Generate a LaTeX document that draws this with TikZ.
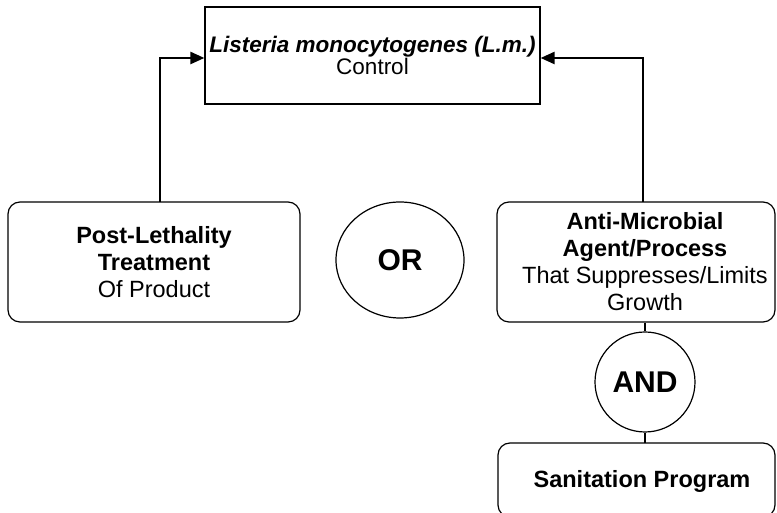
\documentclass[tikz,border=0pt]{standalone}
\usepackage{fontspec}
\setmainfont{Liberation Sans}
\usetikzlibrary{arrows.meta,shapes.geometric}
\begin{document}
\begin{tikzpicture}[x=1pt,y=1pt,
  boxtxt/.style={font=\fontsize{23.5}{27}\selectfont, align=center, inner sep=0pt},
  rbox/.style={draw, line width=1.2pt, rounded corners=12pt},
  sbox/.style={draw, line width=1.2pt},
  conn/.style={line width=2.4pt, -{Triangle[length=14pt,width=12pt]}},
  link/.style={line width=2pt},
  ring/.style={draw, line width=1.2pt, font=\fontsize{30}{32}\selectfont\bfseries, inner sep=0pt}
]
\useasboundingbox (0,0) rectangle (777,513);
\fill[white] (0,0) rectangle (777,513);
% top box
\node[sbox, minimum width=335pt, minimum height=97pt, inner sep=0pt] (top) at (372.5,457.5) {};
\node[boxtxt, font=\fontsize{22.5}{22}\selectfont] (toptxt) at (372.5,457.5) {\textbf{\textit{Listeria monocytogenes (L.m.)}}\\Control};
% left box
\node[rbox, minimum width=292pt, minimum height=120pt, inner sep=0pt] (left) at (154,251) {};
\node[boxtxt] (lefttxt) at (154,251) {\textbf{Post-Lethality}\\\textbf{Treatment}\\Of Product};
% right box
\node[rbox, minimum width=278pt, minimum height=120pt, inner sep=0pt] (right) at (636,251) {};
\node[boxtxt] (righttxt) at (645,251) {\textbf{Anti-Microbial}\\\textbf{Agent/Process}\\That Suppresses/Limits\\Growth};
% OR
\node[ring, ellipse, minimum width=128pt, minimum height=116pt] (or) at (400,253) {OR};
% AND
\node[ring, circle, minimum size=100pt] (and) at (645,131) {AND};
% sanitation box
\draw[line width=1.2pt, rounded corners=12pt] (498,-4) rectangle (775,70);
\coordinate (sanN) at (645,70);
\node[boxtxt, font=\fontsize{23.5}{27}\selectfont\bfseries] (santxt) at (642,32) {Sanitation Program};
% connectors
\coordinate (lstart) at (160,311);
\coordinate (rstart) at (643,311);
\draw[conn] (lstart) -- (160,455) -- (top.west |- 0,455);
\draw[conn] (rstart) -- (643,455) -- (top.east |- 0,455);
\draw[link] (right.south -| and.north) -- (and.north);
\draw[link] (and.south) -- (sanN);
\end{tikzpicture}
\end{document}
